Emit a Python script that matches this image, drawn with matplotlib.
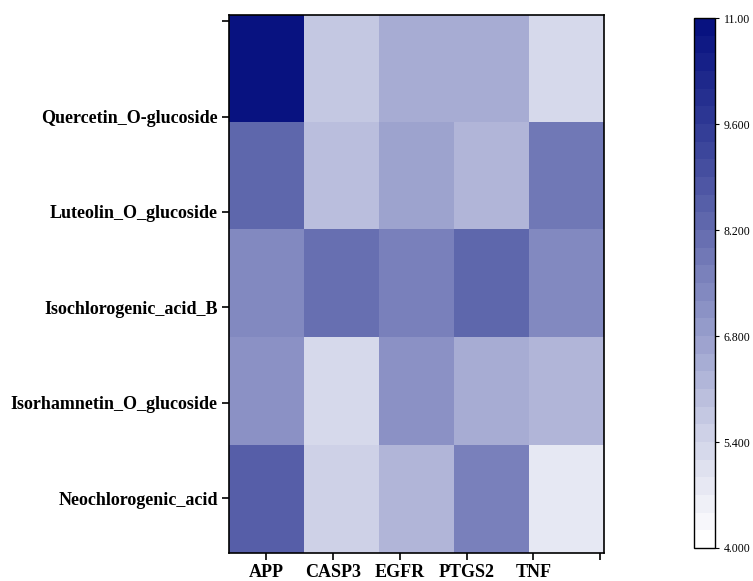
import numpy as np
import matplotlib
matplotlib.use("Agg")
import matplotlib.pyplot as plt
from matplotlib.colors import LinearSegmentedColormap, BoundaryNorm
from matplotlib.cm import ScalarMappable

# heatmap data (rows top -> bottom, columns left -> right)
genes = ["APP", "CASP3", "EGFR", "PTGS2", "TNF"]
compounds = ["", "Quercetin_O-glucoside", "Luteolin_O_glucoside",
             "Isochlorogenic_acid_B", "Isorhamnetin_O_glucoside", "Neochlorogenic_acid"]
row1 = [11.0, 5.75, 6.4, 6.4, 5.3]
row2 = [8.2, 6.0, 6.6, 6.2, 7.85]
row3 = [7.4, 8.0, 7.6, 8.3, 7.3]
row4 = [7.1, 5.3, 7.05, 6.4, 6.2]
row5 = [8.55, 5.55, 6.15, 7.6, 4.7]
cbar_ticks = [4.0, 5.4, 6.8, 8.2, 9.6, 11.0]
cbar_labels = ["4.000", "5.400", "6.800", "8.200", "9.600", "11.00"]

values = np.array([row1, row2, row3, row4, row5])
vmin, vmax, nlev = 4.0, 11.0, 30

cmap = LinearSegmentedColormap.from_list("blues_navy", [
    (0.0, (1.0, 1.0, 1.0)),
    (0.2, (208/255, 211/255, 232/255)),
    (0.4, (152/255, 158/255, 204/255)),
    (0.6, (100/255, 108/255, 175/255)),
    (0.8, (50/255, 60/255, 150/255)),
    (1.0, (8/255, 18/255, 128/255)),
], N=nlev)
norm = BoundaryNorm(np.linspace(vmin, vmax, nlev + 1), cmap.N)

fig = plt.figure(figsize=(7.53, 5.81), dpi=100)
ax = fig.add_axes([0.304, 0.048, 0.498, 0.926])
ax.imshow(values, cmap=cmap, norm=norm, aspect="auto",
          extent=[0, len(genes), len(values), 0], interpolation="nearest")

# ticks are offset from the cells like in the original figure
xt = np.linspace(0.5, 4.95, 6)
ax.set_xticks(xt)
ax.set_xticklabels(genes + [""], fontfamily="Liberation Serif",
                   fontweight="bold", fontsize=13)
yt = np.linspace(0.056, 4.49, 6)
ax.set_yticks(yt)
ax.set_yticklabels(compounds, fontfamily="Liberation Serif",
                   fontweight="bold", fontsize=13)
ax.tick_params(length=5, width=1.2, direction="out", pad=3)
for s in ax.spines.values():
    s.set_linewidth(1.2)

cax = fig.add_axes([0.9217, 0.0568, 0.028, 0.912])
cb = fig.colorbar(ScalarMappable(norm=norm, cmap=cmap), cax=cax, ticks=cbar_ticks)
cb.ax.minorticks_off()
cb.ax.set_yticklabels(cbar_labels, fontfamily="Liberation Serif", fontsize=8.5)
cb.ax.tick_params(length=3, width=0.8, pad=3)
cb.outline.set_linewidth(1.0)

fig.savefig("out.png", dpi=100)
